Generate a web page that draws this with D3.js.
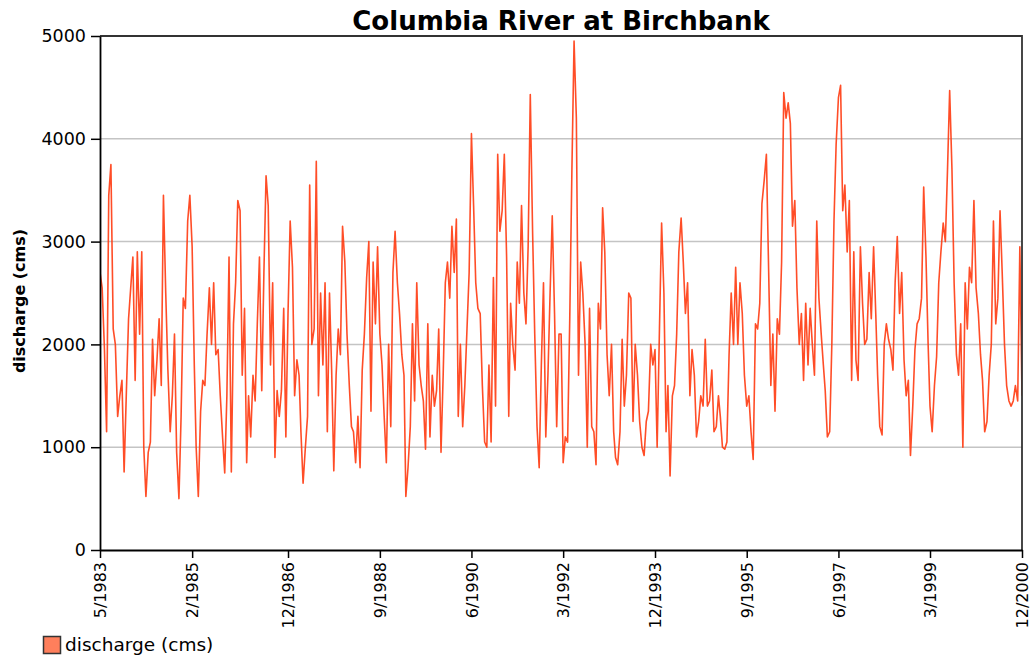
<!DOCTYPE html>
<html>
<head>
<meta charset="utf-8">
<script src="https://cdn.jsdelivr.net/npm/d3@7"></script>
<style>
  body { margin: 0; background: #fff; }
  svg { display: block; }
  text { font-family: "DejaVu Sans", Verdana, sans-serif; fill: #000; }
</style>
</head>
<body>
<svg id="chart" width="1033" height="662"></svg>
<script>
// Chart text
const chartTitle = "Columbia River at Birchbank";
const seriesName = "discharge (cms)";
const yAxisTitle = "discharge (cms)";

// Readings are taken twice a month (1st and 16th), starting May 1983
const startMonth = "1983-05";

// Discharge in cubic metres per second
const discharge = [
  // 1983 - 1986
  2700, 2550, 1950, 1150, 3450, 3750, 2150, 2000, 1300, 1500,
  1650, 760, 1550, 2250, 2550, 2850, 1650, 2900, 2100, 2900,
  1000, 520, 950, 1050, 2050, 1500, 1850, 2250, 1600, 3450,
  2500, 1750, 1150, 1500, 2100, 950, 500, 1300, 2450, 2350,
  3200, 3450, 2950, 1800, 1000, 520, 1350, 1650, 1600, 2100,
  2550, 2000, 2600, 1900, 1950, 1500, 1100, 750, 1500, 2850,
  760, 2200, 2600, 3400, 3300, 1700, 2350, 850, 1500, 1100,
  1700, 1450,
  // 1986 - 1989
  2200, 2850, 1550, 2700, 3640, 3350, 1800, 2600, 900, 1550,
  1300, 1550, 2350, 1100, 2300, 3200, 2750, 1500, 1850, 1700,
  1150, 650, 1000, 1300, 3550, 2000, 2150, 3780, 1500, 2500,
  1800, 2600, 1150, 2500, 1750, 770, 1700, 2150, 1900, 3150,
  2800, 2100, 1600, 1200, 1150, 850, 1300, 800, 1750, 2100,
  2650, 3000, 1350, 2800, 2200, 2950, 2100, 1800, 1300, 850,
  2000, 1200, 2700, 3100, 2600, 2300, 1900, 1700, 520, 800,
  // 1989 - 1992
  1200, 2200, 1450, 2600, 1800, 1600, 1450, 980, 2200, 1100,
  1700, 1400, 1550, 2150, 950, 1700, 2600, 2800, 2450, 3150,
  2700, 3220, 1300, 2000, 1200, 1600, 2150, 2700, 4050, 3350,
  2600, 2350, 2300, 1600, 1050, 1000, 1800, 1050, 2650, 1400,
  3850, 3100, 3300, 3850, 2850, 1300, 2400, 2000, 1750, 2800,
  2400, 3350, 2500, 2200, 2950, 4430, 3100, 2100, 1200, 800,
  1800, 2600, 1100, 1700, 2500, 3250, 2300, 1200, 2100,
  // 1992 - 1995
  2100, 850, 1100, 1050, 2250, 3700, 4950, 4200, 1700, 2800,
  2500, 2000, 1000, 2350, 1200, 1150, 830, 2400, 2150, 3330,
  2900, 1900, 1500, 2000, 1150, 900, 830, 1150, 2050, 1400,
  1700, 2500, 2450, 1250, 2000, 1700, 1250, 1000, 920, 1250,
  1350, 2000, 1800, 1950, 1000, 2150, 3180, 2500, 1150, 1600,
  720, 1500, 1600, 2100, 2900, 3230, 2800, 2300, 2600, 1500,
  1950, 1700, 1100, 1250, 1500, 1400, 2050, 1400, 1450, 1750,
  1150,
  // 1995 - 1998
  1200, 1500, 1300, 1000, 980, 1050, 1900, 2500, 2000, 2750,
  2000, 2600, 2300, 1700, 1400, 1500, 1150, 880, 2200, 2150,
  2400, 3370, 3600, 3850, 2700, 1600, 2100, 1350, 2250, 2100,
  2800, 4450, 4200, 4350, 4150, 3150, 3400, 2550, 2000, 2300,
  1650, 2400, 1800, 2350, 2000, 1700, 3200, 2450, 2100, 1800,
  1550, 1100, 1150, 2000, 3200, 3950, 4400, 4520, 3300, 3550,
  2900, 3400, 1650, 2900, 1850, 1650, 2950, 2400, 2000, 2050,
  2700,
  // 1998 - 2000
  2250, 2950, 2300, 1700, 1200, 1120, 2000, 2200, 2050, 1950,
  1750, 2600, 3050, 2300, 2700, 1850, 1500, 1650, 920, 1400,
  1950, 2200, 2250, 2450, 3530, 2850, 2000, 1400, 1150, 1600,
  1880, 2600, 2900, 3180, 3000, 3700, 4470, 3700, 2600, 1900,
  1700, 2200, 1000, 2600, 2150, 2750, 2600, 3400, 2550, 2300,
  1900, 1650, 1150, 1250, 1700, 2000, 3200, 2200, 2450, 3300,
  2700, 2000, 1600, 1450, 1400, 1450, 1600, 1450, 2950, 1500
];

// Axis ticks
const yTicks = [0, 1000, 2000, 3000, 4000, 5000];
const xTickLabels = ["5/1983", "2/1985", "12/1986", "9/1988", "6/1990", "3/1992",
                     "12/1993", "9/1995", "6/1997", "3/1999", "12/2000"];

// ---- layout ----
const plot = { left: 100, right: 1022, top: 36, bottom: 550 };
const svg = d3.select("#chart");

const parseLabel = s => { const [m, yr] = s.split("/").map(Number); return new Date(yr, m - 1, 1); };
const xTickDates = xTickLabels.map(parseLabel);

const [startYear, startMon] = startMonth.split("-").map(Number);
const points = discharge.map((v, i) => ({
  date: new Date(startYear, startMon - 1 + Math.floor(i / 2), i % 2 ? 16 : 1),
  value: v
}));

const x = d3.scaleTime()
  .domain([xTickDates[0], xTickDates[xTickDates.length - 1]])
  .range([plot.left, plot.right]);

const y = d3.scaleLinear()
  .domain([0, 5000])
  .range([plot.bottom, plot.top]);

// horizontal gridlines
svg.append("g")
  .selectAll("line")
  .data(yTicks.filter(t => t > 0 && t < 5000))
  .join("line")
  .attr("x1", plot.left).attr("x2", plot.right)
  .attr("y1", d => y(d)).attr("y2", d => y(d))
  .attr("stroke", "#c4c4c4")
  .attr("stroke-width", 1.5);

// data line
svg.append("clipPath").attr("id", "plotClip")
  .append("rect")
  .attr("x", plot.left).attr("y", plot.top)
  .attr("width", plot.right - plot.left).attr("height", plot.bottom - plot.top);

const line = d3.line()
  .x(d => x(d.date))
  .y(d => y(d.value));

svg.append("path")
  .datum(points)
  .attr("clip-path", "url(#plotClip)")
  .attr("fill", "none")
  .attr("stroke", "#ff3a10")
  .attr("stroke-opacity", 0.9)
  .attr("stroke-width", 1.6)
  .attr("stroke-linejoin", "round")
  .attr("d", line);

// plot frame (top and right edges)
svg.append("path")
  .attr("d", `M${plot.left},${plot.top}H${plot.right}V${plot.bottom}`)
  .attr("fill", "none")
  .attr("stroke", "#333")
  .attr("stroke-width", 1.8);

// y axis
const yAxis = svg.append("g")
  .attr("transform", `translate(${plot.left},0)`)
  .call(d3.axisLeft(y).tickValues(yTicks).tickSize(9).tickPadding(5).tickSizeOuter(0)
        .tickFormat(d3.format("d")));
yAxis.select(".domain").attr("stroke", "#000").attr("stroke-width", 1.8);
yAxis.selectAll(".tick line").attr("stroke", "#000").attr("stroke-width", 1.5);
yAxis.selectAll(".tick text")
  .style("font-family", '"DejaVu Sans", Verdana, sans-serif')
  .style("font-size", "17.5px")
  .attr("fill", "#000");

// x axis
const xAxis = svg.append("g")
  .attr("transform", `translate(0,${plot.bottom})`)
  .call(d3.axisBottom(x).tickValues(xTickDates).tickSize(8).tickSizeOuter(0)
        .tickFormat((d, i) => xTickLabels[i]));
xAxis.select(".domain").attr("stroke", "#000").attr("stroke-width", 1.8);
xAxis.selectAll(".tick line").attr("stroke", "#000").attr("stroke-width", 1.5);
xAxis.selectAll(".tick text")
  .style("font-family", '"DejaVu Sans", Verdana, sans-serif')
  .style("font-size", "16px")
  .attr("fill", "#000")
  .attr("transform", "rotate(-90)")
  .attr("text-anchor", "end")
  .attr("x", -12)
  .attr("y", 0)
  .attr("dy", "0.36em");

// title
svg.append("text")
  .attr("x", (plot.left + plot.right) / 2)
  .attr("y", 30)
  .attr("text-anchor", "middle")
  .style("font-size", "26px")
  .style("font-weight", "bold")
  .text(chartTitle);

// y axis title
svg.append("text")
  .attr("transform", `translate(25,${(plot.top + plot.bottom) / 2 + 8}) rotate(-90)`)
  .attr("text-anchor", "middle")
  .style("font-size", "16px")
  .style("font-weight", "bold")
  .text(yAxisTitle);

// legend
const legend = svg.append("g").attr("transform", "translate(43,636)");
legend.append("rect")
  .attr("x", 0.5).attr("y", 0.5)
  .attr("width", 17).attr("height", 17)
  .attr("fill", "#ff7f5c")
  .attr("stroke", "#333")
  .attr("stroke-width", 1.5);
legend.append("text")
  .attr("x", 22).attr("y", 15)
  .style("font-size", "18.5px")
  .text(seriesName);
</script>
</body>
</html>
